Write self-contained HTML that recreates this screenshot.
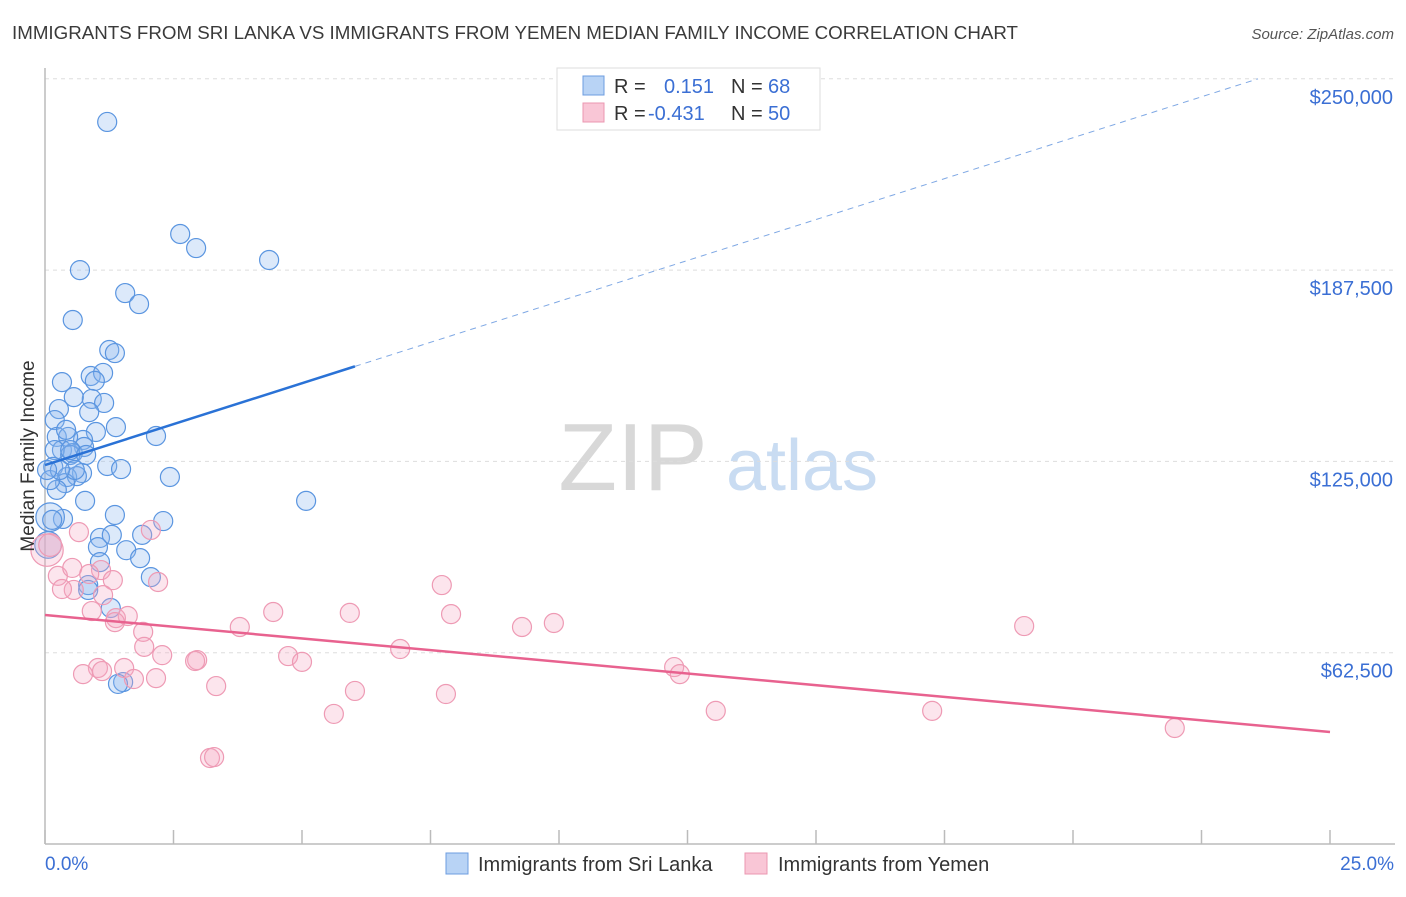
<!DOCTYPE html>
<html><head><meta charset="utf-8"><style>
body{margin:0;background:#fff;font-family:"Liberation Sans",sans-serif;}
svg text{font-family:"Liberation Sans",sans-serif;}
</style></head><body>
<svg id="c" width="1406" height="892" xmlns="http://www.w3.org/2000/svg">
<text x="12" y="39" font-size="18" fill="#3a3a3a" textLength="1006" lengthAdjust="spacingAndGlyphs">IMMIGRANTS FROM SRI LANKA VS IMMIGRANTS FROM YEMEN MEDIAN FAMILY INCOME CORRELATION CHART</text>
<text x="1394" y="39" font-size="15" fill="#555" font-style="italic" text-anchor="end">Source: ZipAtlas.com</text>
<g><text x="633" y="490" font-size="96" font-family="Liberation Serif, serif" fill="#d8d8d8" text-anchor="middle">ZIP</text><text x="802" y="490" font-size="72" fill="#c9dcf2" text-anchor="middle">atlas</text></g>
<g id="grid"></g><g id="axes"></g><g id="pts"></g><g id="trend"></g>
<text transform="translate(34,456) rotate(-90)" font-size="19" fill="#333" text-anchor="middle">Median Family Income</text>
<text x="45" y="870" font-size="19" fill="#3b6fd4">0.0%</text>
<text x="1394" y="870" font-size="19" fill="#3b6fd4" text-anchor="end">25.0%</text>
<g>
<rect x="557" y="68" width="263" height="62" fill="#fff" stroke="#ddd"/>
<rect x="583" y="76" width="21" height="19" fill="#b8d3f5" stroke="#6d9de0"/>
<rect x="583" y="103" width="21" height="19" fill="#f9c6d6" stroke="#eb97b0"/>
<text x="614" y="93" font-size="20" fill="#333">R = </text><text x="664" y="93" font-size="20" fill="#3b6fd4">0.151</text>
<text x="731" y="93" font-size="20" fill="#333">N = </text><text x="768" y="93" font-size="20" fill="#3b6fd4">68</text>
<text x="614" y="120" font-size="20" fill="#333">R = </text><text x="648" y="120" font-size="20" fill="#3b6fd4">-0.431</text>
<text x="731" y="120" font-size="20" fill="#333">N = </text><text x="768" y="120" font-size="20" fill="#3b6fd4">50</text>
</g>
<g>
<rect x="446" y="853" width="22" height="21" fill="#b8d3f5" stroke="#6d9de0"/>
<text x="478" y="871" font-size="20" fill="#333">Immigrants from Sri Lanka</text>
<rect x="745" y="853" width="22" height="21" fill="#f9c6d6" stroke="#eb97b0"/>
<text x="778" y="871" font-size="20" fill="#333">Immigrants from Yemen</text>
</g>
</svg>
<script>
const yTicks=[62.5,125,187.5,250];
const yTickLabels=["$62,500","$125,000","$187,500","$250,000"];
const xTicks=[0,2.5,5,7.5,10,12.5,15,17.5,20,22.5,25];
const blueX=[1.21,2.63,2.94,4.36,0.68,1.56,1.83,0.54,1.25,1.36,0.33,0.89,1.13,0.97,0.91,1.15,0.56,0.27,0.86,0.19,1.38,2.16,0.99,0.74,0.23,0.45,0.33,0.76,0.54,0.19,0.49,0.16,1.21,1.48,2.43,0.72,0.43,0.62,0.39,0.23,0.10,0.78,5.08,0.35,1.36,2.30,0.10,1.89,1.07,1.30,1.03,1.58,1.85,1.07,2.06,0.84,0.84,1.28,1.52,1.42,0.06,0.14,0.58,0.49,0.29,0.80,0.41,0.04];
const blueY=[235.9,199.3,194.7,190.8,187.5,180.0,176.4,171.2,161.4,160.4,150.9,152.9,153.9,151.3,145.4,144.1,146.0,142.1,141.1,138.5,136.2,133.3,134.6,132.0,133.0,133.0,128.7,129.7,127.7,128.7,127.1,123.2,123.5,122.5,119.9,121.2,119.9,120.2,117.9,115.7,118.9,112.1,112.1,106.2,107.5,105.5,106.8,101.0,100.0,101.0,97.0,96.0,93.4,92.1,87.2,84.6,83.0,77.1,52.9,52.3,97.7,105.9,122.2,128.7,122.2,127.1,135.3,122.2];
const blueSize=[1,1,1,1,1,1,1,1,1,1,1,1,1,1,1,1,1,1,1,1,1,1,1,1,1,1,1,1,1,1,1,1,1,1,1,1,1,1,1,1,1,1,1,1,1,1,1.5,1,1,1,1,1,1,1,1,1,1,1,1,1,1.4,1,1,1,1,1,1,1];
const pinkX=[0.04,0.10,0.66,2.06,0.25,0.53,0.56,0.33,1.09,0.86,1.32,2.20,1.13,0.91,1.38,1.61,1.91,1.93,2.28,1.36,3.79,4.44,5.93,7.72,7.90,9.28,9.90,19.05,6.91,4.73,5.00,2.96,2.92,1.03,1.54,0.74,1.11,1.73,2.16,3.33,6.03,7.80,5.62,12.24,12.35,13.05,17.26,21.98,3.21,3.29];
const pinkY=[96.0,97.7,101.9,102.6,87.6,90.2,83.0,83.3,89.5,88.2,86.2,85.6,81.3,76.1,73.8,74.5,69.3,64.4,61.7,72.5,70.9,75.8,75.5,84.6,75.1,70.9,72.2,71.2,63.7,61.4,59.5,60.1,59.8,57.5,57.5,55.5,56.5,53.9,54.2,51.6,50.0,49.0,42.5,57.8,55.5,43.5,43.5,37.9,28.1,28.4];
const pinkSize=[1.7,1.2,1,1,1,1,1,1,1,1,1,1,1,1,1,1,1,1,1,1,1,1,1,1,1,1,1,1,1,1,1,1,1,1,1,1,1,1,1,1,1,1,1,1,1,1,1,1,1,1];
const blueTrend=[123.8,250.0];const blueTrendX=[0,23.6];const blueSolidEnd=6.03;
const pinkTrend=[74.8,36.6];const pinkTrendX=[0,25];
const X0=45,X1=1330,Y0=844,PXK=191.3/62.5;
const sx=v=>X0+(X1-X0)*v/25, sy=v=>Y0-v*PXK;
const NS="http://www.w3.org/2000/svg";
function mk(t,a,p){const e=document.createElementNS(NS,t);for(const k in a)e.setAttribute(k,a[k]);p.appendChild(e);return e;}
const grid=document.getElementById('grid'),axes=document.getElementById('axes'),pts=document.getElementById('pts'),tr=document.getElementById('trend');
yTicks.forEach((v,i)=>{
 const l=mk('line',{x1:X0,x2:1395,y1:sy(v),y2:sy(v),stroke:'#ddd','stroke-dasharray':'4,4'},grid);
 
 
 const t=mk('text',{x:1393,y:sy(v)+25,'font-size':20,fill:'#3b6fd4','text-anchor':'end'},grid);
 t.textContent=yTickLabels[i];
 
 
});
const ya=mk('line',{x1:X0,x2:X0,y1:68,y2:Y0,stroke:'#bbb','stroke-width':1.5},axes);


const xa=mk('line',{x1:X0,x2:1395,y1:Y0,y2:Y0,stroke:'#bbb','stroke-width':1.5},axes);


xTicks.forEach(v=>{const t=mk('line',{x1:sx(v),x2:sx(v),y1:830,y2:Y0,stroke:'#bbb','stroke-width':1.5},axes);
 
 });
blueX.forEach((v,i)=>{const c=mk('circle',{cx:sx(v),cy:sy(blueY[i]),r:9.5*blueSize[i],fill:'rgba(140,182,238,0.3)',stroke:'#5a95e0','stroke-width':1.2},pts);
 
 });
pinkX.forEach((v,i)=>{const c=mk('circle',{cx:sx(v),cy:sy(pinkY[i]),r:9.5*pinkSize[i],fill:'rgba(246,170,195,0.3)',stroke:'#ee9ab4','stroke-width':1.2},pts);
 
 });
const bv=x=>blueTrend[0]+(blueTrend[1]-blueTrend[0])*(x-blueTrendX[0])/(blueTrendX[1]-blueTrendX[0]);
const b1=mk('line',{x1:sx(0),y1:sy(bv(0)),x2:sx(blueSolidEnd),y2:sy(bv(blueSolidEnd)),stroke:'#2a72d6','stroke-width':2.5},tr);


const b2=mk('line',{x1:sx(blueSolidEnd),y1:sy(bv(blueSolidEnd)),x2:sx(blueTrendX[1]),y2:sy(blueTrend[1]),stroke:'#7fa8e4','stroke-width':1,'stroke-dasharray':'6,5'},tr);


const p1=mk('line',{x1:sx(pinkTrendX[0]),y1:sy(pinkTrend[0]),x2:sx(pinkTrendX[1]),y2:sy(pinkTrend[1]),stroke:'#e8628f','stroke-width':2.5},tr);


</script>
</body></html>
